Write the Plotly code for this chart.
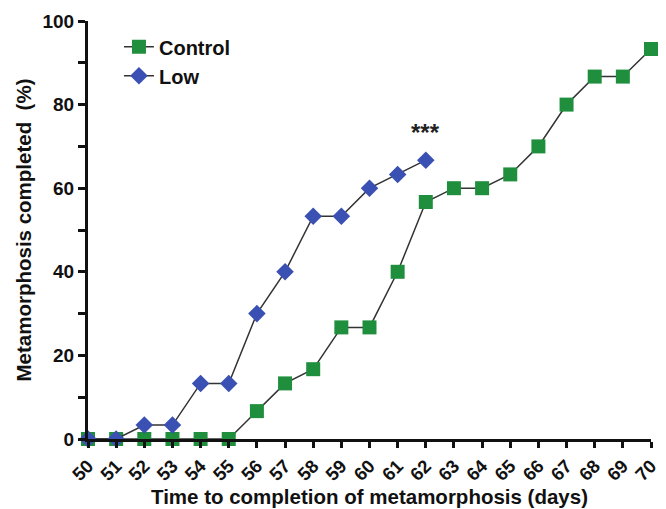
import plotly.graph_objects as go

days = list(range(50, 71))
control = [0, 0, 0, 0, 0, 0, 6.67, 13.3, 16.7, 26.7, 26.7, 40, 56.7, 60, 60, 63.3, 70, 80, 86.7, 86.7, 93.3]
low_days = list(range(50, 63))
low = [0, 0, 3.33, 3.33, 13.3, 13.3, 30, 40, 53.3, 53.3, 60, 63.3, 66.7]
x_ticks = list(range(50, 71))
y_ticks = [0, 20, 40, 60, 80, 100]

font_family = "Liberation Sans, Arial, sans-serif"

fig = go.Figure()
fig.add_trace(go.Scatter(
    x=days, y=control, name="<b>Control</b>", mode="lines+markers",
    line=dict(color="#333333", width=1.5),
    marker=dict(symbol="square", size=14, color="#1f8f3e", line=dict(width=0)),
    cliponaxis=False,
))
fig.add_trace(go.Scatter(
    x=low_days, y=low, name="<b>Low</b>", mode="lines+markers",
    line=dict(color="#333333", width=1.5),
    marker=dict(symbol="diamond", size=13.5, color="#3a51b3", line=dict(width=0)),
    cliponaxis=False,
))
fig.add_annotation(x=62, y=low[-1], text="<b>***</b>", showarrow=False,
                   yshift=28, font=dict(size=24, color="#222", family=font_family))

fig.update_layout(
    width=666, height=509,
    margin=dict(l=88, r=15, t=21, b=70),
    plot_bgcolor="white", paper_bgcolor="white",
    font=dict(family=font_family, color="#111"),
    showlegend=True,
    legend=dict(x=0.055, y=0.985, xanchor="left", yanchor="top",
                font=dict(size=20, family=font_family, color="#111"),
                bgcolor="rgba(0,0,0,0)", itemwidth=30, tracegroupgap=0),
    xaxis=dict(
        range=[50, 70], tickvals=x_ticks, ticktext=[f"<b>{v}</b>" for v in x_ticks],
        tickangle=-45, ticks="outside", ticklen=6, tickwidth=2.5, tickcolor="#111",
        showline=True, linewidth=3, linecolor="#111", showgrid=False, zeroline=False,
        automargin=False,
        tickfont=dict(size=18.5, family=font_family, color="#111"),
        title=dict(text="<b>Time to completion of metamorphosis (days)</b>",
                   font=dict(size=20.5, family=font_family, color="#111"), standoff=1),
    ),
    yaxis=dict(
        range=[0, 100], tickvals=y_ticks, ticktext=[f"<b>{v}</b>" for v in y_ticks],
        ticks="outside", ticklen=7, tickwidth=2.5, tickcolor="#111",
        minor=dict(tickvals=[10, 30, 50, 70, 90], ticks="outside", ticklen=7, tickwidth=2.5, tickcolor="#111"),
        showline=True, linewidth=3, linecolor="#111", showgrid=False, zeroline=False,
        automargin=False,
        tickfont=dict(size=19, family=font_family, color="#111"),
        title=dict(text="<b>Metamorphosis completed  (%)</b>",
                   font=dict(size=20.5, family=font_family, color="#111"), standoff=6),
    ),
)

fig.write_html("out.html")
